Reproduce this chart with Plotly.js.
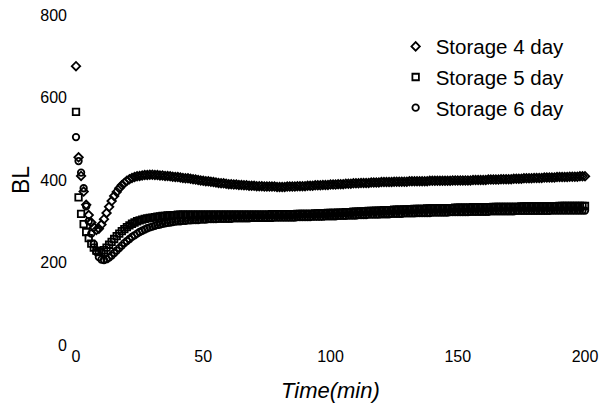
<!DOCTYPE html>
<html>
<head>
<meta charset="utf-8">
<script src="https://cdn.plot.ly/plotly-3.0.1.min.js"></script>
<style>
  html, body { margin: 0; padding: 0; background: #fff; }
  #chart { width: 599px; height: 406px; }
</style>
</head>
<body>
<div id="chart"></div>
<script>
// Sampling: one reading per minute, 0..200 min
const timeStart = 0;
const timeStep = 1;

const seriesNames = ["Storage 4 day", "Storage 5 day", "Storage 6 day"];
const xTitle = "Time(min)";
const yTitle = "BL";

const storage4 = [
  676, 455, 410, 372, 340, 315, 297, 285, 279, 282, 292,
  305, 320, 335, 349, 361, 371, 380, 387, 393, 398,
  402, 405, 407, 409, 410, 411, 412, 412, 413, 413,
  412, 412, 411, 411, 410, 410, 409, 408, 407, 407,
  406, 405, 404, 404, 403, 402, 401, 400, 399, 398,
  397, 397, 396, 395, 394, 393, 392, 392, 391, 390,
  390, 389, 389, 388, 388, 387, 387, 386, 386, 386,
  385, 385, 385, 384, 384, 384, 384, 384, 383, 383,
  383, 383, 384, 384, 384, 384, 385, 385, 385, 385,
  386, 386, 386, 387, 387, 387, 388, 388, 388, 389,
  389, 389, 390, 390, 390, 391, 391, 391, 392, 392,
  392, 393, 393, 393, 393, 394, 394, 394, 394, 395,
  395, 395, 395, 395, 396, 396, 396, 396, 396, 396,
  397, 397, 397, 397, 397, 397, 397, 397, 398, 398,
  398, 398, 398, 398, 398, 398, 398, 399, 399, 399,
  399, 399, 399, 399, 399, 400, 400, 400, 400, 400,
  400, 401, 401, 401, 401, 401, 402, 402, 402, 402,
  402, 403, 403, 403, 403, 404, 404, 404, 404, 405,
  405, 405, 405, 406, 406, 406, 406, 406, 407, 407,
  407, 407, 407, 408, 408, 408, 408, 409, 409, 409
];

const storage5 = [
  565, 358, 318, 293, 274, 259, 246, 236, 229, 225, 226,
  230, 236, 243, 250, 257, 264, 270, 276, 281, 286,
  290, 294, 297, 300, 302, 304, 306, 307, 308, 309,
  310, 311, 312, 313, 313, 314, 314, 315, 315, 316,
  316, 316, 316, 316, 316, 316, 316, 316, 316, 316,
  316, 316, 316, 316, 316, 316, 316, 316, 316, 316,
  316, 316, 316, 316, 316, 316, 316, 316, 316, 316,
  316, 316, 316, 316, 316, 316, 317, 317, 317, 317,
  317, 317, 317, 317, 317, 317, 318, 318, 318, 318,
  318, 318, 318, 319, 319, 319, 319, 319, 320, 320,
  320, 320, 321, 321, 321, 322, 322, 322, 323, 323,
  323, 324, 324, 324, 325, 325, 325, 326, 326, 326,
  327, 327, 327, 327, 328, 328, 328, 328, 329, 329,
  329, 329, 330, 330, 330, 330, 330, 331, 331, 331,
  331, 331, 332, 332, 332, 332, 332, 332, 333, 333,
  333, 333, 333, 333, 333, 334, 334, 334, 334, 334,
  334, 334, 334, 335, 335, 335, 335, 335, 335, 335,
  335, 335, 335, 335, 336, 336, 336, 336, 336, 336,
  336, 336, 336, 336, 336, 336, 336, 336, 336, 337,
  337, 337, 337, 337, 337, 337, 337, 337, 337, 337
];

const storage6 = [
  504, 446, 418, 380, 336, 300, 270, 245, 226, 213, 207,
  206, 208, 212, 217, 223, 229, 235, 241, 247, 252,
  257, 262, 266, 270, 274, 277, 280, 283, 285, 287,
  289, 291, 292, 294, 295, 296, 297, 298, 299, 300,
  300, 301, 301, 302, 302, 303, 303, 303, 304, 304,
  304, 305, 305, 305, 305, 306, 306, 306, 306, 306,
  306, 307, 307, 307, 307, 307, 307, 307, 308, 308,
  308, 308, 308, 308, 308, 308, 308, 309, 309, 309,
  309, 309, 309, 309, 309, 309, 310, 310, 310, 310,
  310, 310, 311, 311, 311, 311, 311, 312, 312, 312,
  312, 312, 313, 313, 313, 313, 314, 314, 314, 314,
  315, 315, 315, 315, 316, 316, 316, 316, 316, 317,
  317, 317, 317, 318, 318, 318, 318, 318, 319, 319,
  319, 319, 319, 320, 320, 320, 320, 320, 320, 321,
  321, 321, 321, 321, 321, 321, 322, 322, 322, 322,
  322, 322, 322, 322, 323, 323, 323, 323, 323, 323,
  323, 323, 324, 324, 324, 324, 324, 324, 324, 324,
  324, 324, 325, 325, 325, 325, 325, 325, 325, 325,
  325, 325, 325, 325, 325, 325, 326, 326, 326, 326,
  326, 326, 326, 326, 326, 326, 326, 326, 326, 326
];

const xTicks = [0, 50, 100, 150, 200];
const yTicks = [0, 200, 400, 600, 800];

function timesFor(arr) {
  return arr.map((_, i) => timeStart + i * timeStep);
}

const symbols = ["diamond-open", "square-open", "circle-open"];
const seriesData = [storage4, storage5, storage6];

const traces = seriesData.map((ys, k) => ({
  type: "scatter",
  mode: "markers",
  name: seriesNames[k],
  legendgroup: "g" + k,
  x: timesFor(ys),
  y: ys,
  marker: {
    symbol: symbols[k],
    size: 6.5,
    color: "#000",
    line: { width: 1.8, color: "#000" }
  },
  cliponaxis: false
}));

const font = "Liberation Sans, Arial, sans-serif";

const layout = {
  width: 599,
  height: 406,
  margin: { l: 76, r: 14, t: 15, b: 61 },
  paper_bgcolor: "#fff",
  plot_bgcolor: "#fff",
  font: { family: font, color: "#000" },
  showlegend: true,
  legend: {
    x: 0.628, y: 0.965, xanchor: "left", yanchor: "top",
    font: { family: font, size: 20.5, color: "#000" },
    bgcolor: "rgba(0,0,0,0)",
    borderwidth: 0,
    traceorder: "grouped",
    tracegroupgap: 1
  },
  xaxis: {
    range: [0, 200],
    tickvals: xTicks,
    ticktext: xTicks.map(String),
    ticklabeloverflow: "allow",
    showgrid: false, zeroline: false, showline: false,
    ticks: "",
    automargin: false,
    tickfont: { family: font, size: 16, color: "#000" }
  },
  yaxis: {
    range: [0, 800],
    tickvals: yTicks,
    ticktext: yTicks.map(String),
    showgrid: false, zeroline: false, showline: false,
    ticks: "",
    automargin: false,
    ticklabelstandoff: 8,
    tickfont: { family: font, size: 16, color: "#000" }
  },
  annotations: [
    {
      text: xTitle, xref: "paper", yref: "paper", x: 0.5, y: 0,
      xanchor: "center", yanchor: "middle", yshift: -45, showarrow: false,
      font: { family: font, size: 22, color: "#000", style: "italic" }
    },
    {
      text: yTitle, xref: "paper", yref: "paper", x: 0, y: 0.5,
      xanchor: "center", yanchor: "middle", xshift: -55, textangle: -90, showarrow: false,
      font: { family: font, size: 23, color: "#000" }
    }
  ]
};

Plotly.newPlot("chart", traces, layout, { displayModeBar: false, staticPlot: true });
</script>
</body>
</html>
